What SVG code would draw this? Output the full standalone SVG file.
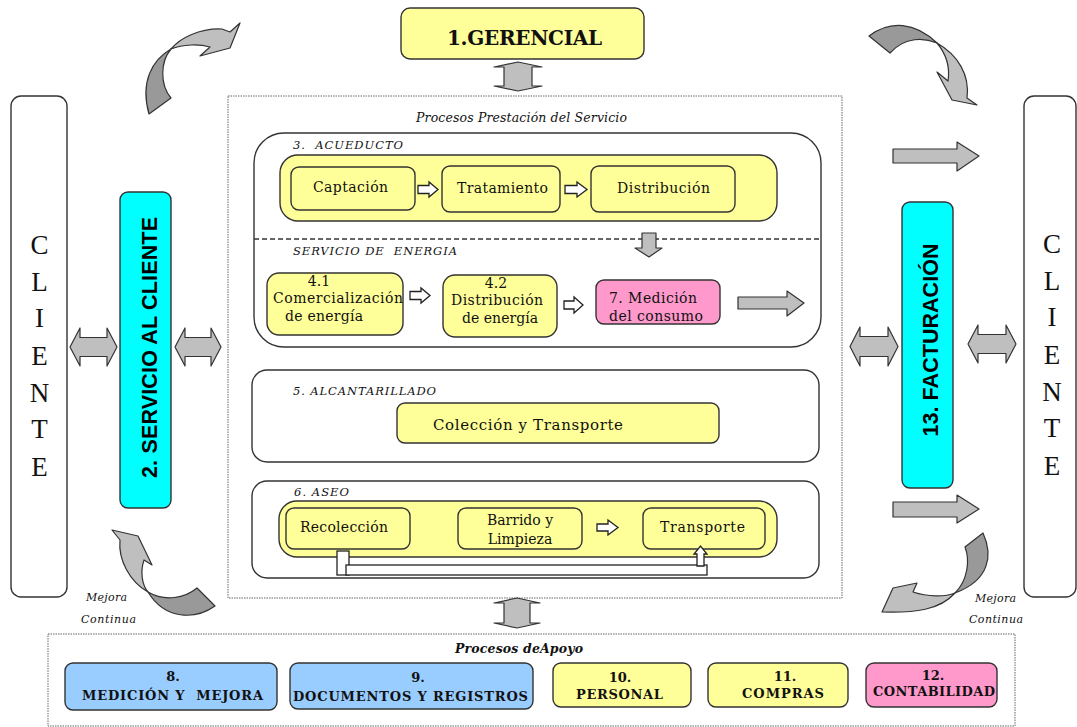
<svg xmlns="http://www.w3.org/2000/svg" width="1077" height="727" viewBox="0 0 1077 727">
  <style>
    .bx { stroke: #333; stroke-width: 1.4; }
    .y { fill: #FFFF99; }
    .c { fill: #00FFFF; }
    .b { fill: #99CCFF; }
    .p { fill: #FF99CC; }
    .w { fill: #fff; }
    .dot { fill: none; stroke: #666; stroke-width: 1; stroke-dasharray: 1.5 1; }
    .t { font-family: "DejaVu Serif", serif; font-size: 14px; fill: #111; }
    .it { font-family: "DejaVu Serif", serif; font-style: italic; font-size: 11.5px; fill: #111; }
    .bd { font-family: "DejaVu Serif", serif; font-weight: bold; font-size: 13px; fill: #111; }
    .sb { font-family: "Liberation Sans", Arial, sans-serif; font-weight: bold; font-size: 21.5px; fill: #000; }
    .cl { font-family: "Liberation Serif", serif; font-size: 27px; fill: #111; text-anchor: middle; }
    .mid { text-anchor: middle; }
    .ga { fill: #bfbfbf; stroke: #333; stroke-width: 1.2; stroke-linejoin: round; }
    .gd { fill: #999; stroke: #333; stroke-width: 1.2; stroke-linejoin: round; }
    .ha { fill: #fff; stroke: #222; stroke-width: 1.3; }
  </style>

  <!-- frames -->
  <rect id="frame-servicio" class="dot" x="228" y="96" width="614" height="502"/>
  <rect id="frame-apoyo" class="dot" x="48" y="634" width="967" height="92"/>
  <text class="it" x="416" y="122" style="font-size:12.5px" textLength="211">Procesos Prestación del Servicio</text>
  <text class="it" x="455" y="653" style="font-size:12.5px;font-weight:bold" textLength="128">Procesos deApoyo</text>

  <!-- clients -->
  <g id="cliente-izq">
    <rect class="bx w" x="11" y="96" width="56" height="501" rx="10"/>
    <text class="cl" x="39.5" y="254">C</text>
    <text class="cl" x="39.5" y="291">L</text>
    <text class="cl" x="39.5" y="327">I</text>
    <text class="cl" x="39.5" y="365">E</text>
    <text class="cl" x="39.5" y="402">N</text>
    <text class="cl" x="39.5" y="438">T</text>
    <text class="cl" x="39.5" y="476">E</text>
  </g>
  <g id="cliente-der">
    <rect class="bx w" x="1024" y="96" width="52" height="501" rx="10"/>
    <text class="cl" x="1052" y="253">C</text>
    <text class="cl" x="1052" y="290">L</text>
    <text class="cl" x="1052" y="326">I</text>
    <text class="cl" x="1052" y="364">E</text>
    <text class="cl" x="1052" y="401">N</text>
    <text class="cl" x="1052" y="437">T</text>
    <text class="cl" x="1052" y="475">E</text>
  </g>

  <!-- side processes -->
  <g id="servicio-cliente">
    <rect class="bx c" x="120" y="192" width="51" height="316" rx="8"/>
    <text class="sb mid" transform="translate(157,347.5) rotate(-90)" textLength="261">2. SERVICIO AL CLIENTE</text>
  </g>
  <g id="facturacion">
    <rect class="bx c" x="902" y="202" width="51" height="286" rx="8"/>
    <text class="sb mid" transform="translate(938,340) rotate(-90)" textLength="193">13. FACTURACIÓN</text>
  </g>

  <!-- management -->
  <g id="gerencial">
    <rect class="bx y" x="401" y="8" width="243" height="51" rx="9"/>
    <text class="bd" x="447" y="45" style="font-size:20px" textLength="155">1.GERENCIAL</text>
  </g>

  <!-- water + energy -->
  <g id="acueducto-energia">
    <rect class="bx w" x="254" y="133" width="567" height="214" rx="30"/>
    <line x1="254" y1="239" x2="821" y2="239" stroke="#333" stroke-width="1.3" stroke-dasharray="5 3"/>
    <text class="it" x="293" y="149" textLength="110" xml:space="preserve">3.  ACUEDUCTO</text>
    <text class="it" x="293" y="255" textLength="164" xml:space="preserve">SERVICIO DE  ENERGIA</text>
  </g>
  <g id="acueducto-flujo">
    <rect class="bx y" x="280" y="155" width="497" height="66" rx="18"/>
  </g>
  <g id="captacion">
    <rect class="bx y" x="291" y="167" width="124" height="43" rx="8"/>
    <text class="t" x="313" y="192" textLength="75">Captación</text>
  </g>
  <g id="tratamiento">
    <rect class="bx y" x="442" y="166" width="118" height="46" rx="8"/>
    <text class="t" x="457" y="193" textLength="91">Tratamiento</text>
  </g>
  <g id="distribucion">
    <rect class="bx y" x="591" y="166" width="144" height="46" rx="8"/>
    <text class="t" x="617" y="193" textLength="93">Distribución</text>
  </g>
  <g id="comercializacion">
    <rect class="bx y" x="267" y="273" width="136" height="62" rx="12"/>
    <text class="t mid" x="319" y="286">4.1</text>
    <text class="t" x="273" y="303" textLength="130">Comercialización</text>
    <text class="t" x="285" y="321" textLength="78">de energía</text>
  </g>
  <g id="distribucion-energia">
    <rect class="bx y" x="443" y="275" width="114" height="62" rx="12"/>
    <text class="t mid" x="496" y="288">4.2</text>
    <text class="t" x="451" y="305" textLength="92">Distribución</text>
    <text class="t" x="462" y="323" textLength="76">de energía</text>
  </g>
  <g id="medicion-consumo">
    <rect class="bx p" x="596" y="280" width="124" height="44" rx="8"/>
    <text class="t" x="609" y="303" textLength="88">7. Medición</text>
    <text class="t" x="609" y="321" textLength="94">del consumo</text>
  </g>

  <!-- sewerage -->
  <g id="alcantarillado">
    <rect class="bx w" x="252" y="370" width="567" height="92" rx="15"/>
    <text class="it" x="293" y="395" textLength="143">5. ALCANTARILLADO</text>
  </g>
  <g id="coleccion-transporte">
    <rect class="bx y" x="397" y="403" width="322" height="40" rx="8"/>
    <text class="t" x="433" y="430" style="font-size:15px" textLength="190">Colección y Transporte</text>
  </g>

  <!-- cleaning -->
  <g id="aseo">
    <rect class="bx w" x="252" y="481" width="567" height="97" rx="15"/>
    <text class="it" x="294" y="496" textLength="55">6. ASEO</text>
    <rect class="bx y" x="279" y="501" width="498" height="56" rx="18"/>
  </g>
  <g id="recoleccion">
    <rect class="bx y" x="286" y="508" width="124" height="41" rx="8"/>
    <text class="t" x="300" y="532" textLength="88">Recolección</text>
  </g>
  <g id="barrido">
    <rect class="bx y" x="458" y="508" width="124" height="41" rx="8"/>
    <text class="t mid" x="520" y="525">Barrido y</text>
    <text class="t mid" x="520" y="544">Limpieza</text>
  </g>
  <g id="transporte">
    <rect class="bx y" x="643" y="508" width="122" height="41" rx="8"/>
    <text class="t" x="660" y="532" textLength="85">Transporte</text>
  </g>

  <!-- support processes -->
  <g id="medicion-mejora">
    <rect class="bx b" x="65" y="663" width="212" height="47" rx="8"/>
    <text class="bd mid" x="173" y="681">8.</text>
    <text class="bd" x="82" y="700" textLength="181" xml:space="preserve">MEDICIÓN Y  MEJORA</text>
  </g>
  <g id="documentos">
    <rect class="bx b" x="290" y="663" width="243" height="46" rx="8"/>
    <text class="bd mid" x="418" y="682">9.</text>
    <text class="bd" x="293" y="701" textLength="235">DOCUMENTOS Y REGISTROS</text>
  </g>
  <g id="personal">
    <rect class="bx y" x="553" y="663" width="138" height="44" rx="8"/>
    <text class="bd mid" x="620" y="682">10.</text>
    <text class="bd" x="576" y="699" textLength="87">PERSONAL</text>
  </g>
  <g id="compras">
    <rect class="bx y" x="708" y="663" width="140" height="44" rx="8"/>
    <text class="bd mid" x="785" y="681">11.</text>
    <text class="bd" x="742" y="698" textLength="82">COMPRAS</text>
  </g>
  <g id="contabilidad">
    <rect class="bx p" x="866" y="663" width="131" height="44" rx="8"/>
    <text class="bd mid" x="933" y="680">12.</text>
    <text class="bd" x="873" y="696" textLength="122">CONTABILIDAD</text>
  </g>

  <!-- connectors -->
  <g id="connectors">
    <!-- double arrows -->
    <path class="ga" d="M518 62 L542 67 L532 67 L532 86 L542 86 L518 91 L494 86 L504 86 L504 67 L494 67 Z"/>
    <path class="ga" d="M517 598 L540 603 L530 603 L530 623 L540 623 L517 628 L494 623 L504 623 L504 603 L494 603 Z"/>
    <path class="ga" d="M70 347 L80 328 L80 337.5 L107 337.5 L107 328 L117 347 L107 366 L107 356.5 L80 356.5 L80 366 Z"/>
    <path class="ga" d="M175 347 L185 328 L185 337.5 L211 337.5 L211 328 L221 347 L211 366 L211 356.5 L185 356.5 L185 366 Z"/>
    <path class="ga" d="M850 346.5 L860 327 L860 336.5 L888 336.5 L888 327 L898 346.5 L888 366 L888 356.5 L860 356.5 L860 366 Z"/>
    <path class="ga" d="M968 344 L978 325 L978 334.5 L1006 334.5 L1006 325 L1016 344 L1006 363 L1006 353.5 L978 353.5 L978 363 Z"/>
    <!-- block arrows -->
    <path class="ga" d="M893 149 L957 149 L957 142 L979 156 L957 171 L957 163 L893 163 Z"/>
    <path class="ga" d="M893 502 L957 502 L957 495 L979 509 L957 523 L957 517 L893 517 Z"/>
    <path class="ga" d="M738 297 L787 297 L787 291 L804 303 L787 316 L787 309 L738 309 Z"/>
    <path class="ga" d="M642 233 L656 233 L656 248 L662 248 L649 257 L635 248 L642 248 Z"/>
    <!-- hollow flow arrows -->
    <path class="ha" d="M418 185.5 L429 185.5 L429 182 L438 189.5 L429 197 L429 193.5 L418 193.5 Z"/>
    <path class="ha" d="M565 185.5 L577 185.5 L577 182 L587 189.5 L577 197 L577 193.5 L565 193.5 Z"/>
    <path class="ha" d="M410 291.5 L421 291.5 L421 288 L430 295.5 L421 303 L421 299.5 L410 299.5 Z"/>
    <path class="ha" d="M564 301 L574 301 L574 297 L583 305 L574 313 L574 309 L564 309 Z"/>
    <path class="ha" d="M597 524 L608 524 L608 520 L618 527.5 L608 535 L608 531 L597 531 Z"/>
    <!-- return loop in cleaning -->
    <rect class="ha" x="337" y="551" width="12" height="24"/>
    <rect class="ha" x="346" y="565" width="361" height="10"/>
    <path class="ha" d="M697 566 L697 554 L694 554 L700.5 546 L707 554 L704 554 L704 566 Z"/>
    <!-- continuous improvement loops: twisted ribbons, dark back face + light front face -->
    <path class="ga" d="M171 49 C180 38 200 28 222 29 L230 32 L240 23 L230 48 L200 56 L210 47 C200 44 183 44 171 49 Z"/>
    <path class="gd" d="M171 49 C152 60 140 82 149 114 L171 98 C160 85 160 62 171 49 Z"/>
    <path class="gd" d="M869 36 C890 20 915 22 937 43 C925 38 905 36 890 53 Z"/>
    <path class="ga" d="M937 43 C958 55 970 75 967 98 L977 105 L952 100 L937 72 L948 81 C950 68 947 55 937 43 Z"/>
    <path class="ga" d="M112 530 L138 536 L152 565 L144 560 C140 572 142 585 148 592 C130 582 118 560 120 540 Z"/>
    <path class="gd" d="M148 592 C165 602 185 598 197 588 L215 606 C195 620 165 620 148 592 Z"/>
    <path class="gd" d="M983 533 C993 555 990 580 955 593 C968 580 970 560 965 547 Z"/>
    <path class="ga" d="M955 593 C940 610 915 613 882 612 L893 588 L917 583 L913 592 C928 597 945 597 955 593 Z"/>
  </g>

  <text class="it" x="86" y="601" style="font-size:11px" textLength="41">Mejora</text>
  <text class="it" x="81" y="623" style="font-size:11px" textLength="55">Continua</text>
  <text class="it" x="975" y="602" style="font-size:11px" textLength="41">Mejora</text>
  <text class="it" x="969" y="623" style="font-size:11px" textLength="54">Continua</text>
</svg>
